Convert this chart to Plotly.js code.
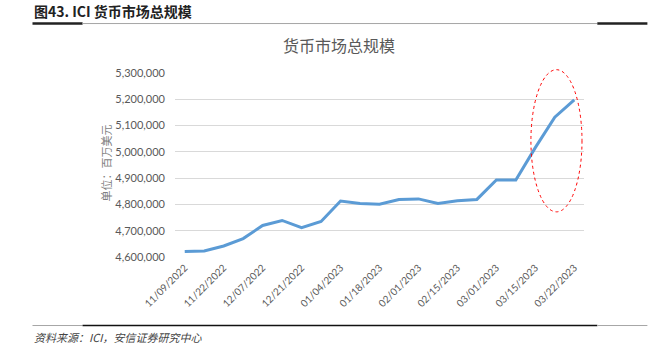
<!DOCTYPE html>
<html>
<head>
<meta charset="utf-8">
<script src="https://cdn.plot.ly/plotly-3.0.1.min.js"></script>
<style>
html,body{margin:0;padding:0;background:#fff;}
#chart{width:657px;height:347px;}
</style>
</head>
<body>
<div id="chart"></div>
<script>
// Categories (weekly report dates)
const dates = [
  "11/09/2022","11/16/2022","11/22/2022","11/30/2022","12/07/2022","12/14/2022",
  "12/21/2022","12/28/2022","01/04/2023","01/11/2023","01/18/2023","01/25/2023",
  "02/01/2023","02/08/2023","02/15/2023","02/22/2023","03/01/2023","03/08/2023",
  "03/15/2023","03/17/2023","03/22/2023"
];
// Total money market fund assets (USD millions)
const totalAssets = [
  4621000,4623000,4642000,4670000,4720000,4739000,
  4712000,4735000,4813000,4804000,4801000,4819000,
  4821000,4804000,4814000,4819000,4893000,4893000,
  5016000,5132000,5198000
];
// Tick labels shown on the x axis
const xTickLabels = [
  "11/09/2022","11/22/2022","12/07/2022","12/21/2022","01/04/2023","01/18/2023",
  "02/01/2023","02/15/2023","03/01/2023","03/15/2023","03/22/2023"
];
const yTickVals = [4600000,4700000,4800000,4900000,5000000,5100000,5200000,5300000];

// plot area in pixels
const L = 175.3, R = 583.7, T = 73.3, B = 256.7, Wd = 657, Ht = 347;
const px = x => (x - L) / (R - L);
const py = y => (B - y) / (B - T);

const cjk = '"Noto Sans CJK SC", "Noto Sans", sans-serif';
const latin = 'Lato, "Noto Sans", sans-serif';

const trace = {
  x: dates, y: totalAssets, type: 'scatter', mode: 'lines',
  line: {color: '#5B9BD5', width: 3},
  hoverinfo: 'none'
};

function hline(x0, x1, y, color, w) {
  return {type: 'line', xref: 'paper', yref: 'paper', x0: px(x0), x1: px(x1), y0: py(y), y1: py(y),
          line: {color: color, width: w}};
}

const layout = {
  width: Wd, height: Ht,
  margin: {l: L, r: Wd - R, t: T, b: Ht - B, pad: 0},
  paper_bgcolor: '#fff', plot_bgcolor: '#fff',
  showlegend: false,
  xaxis: {
    type: 'category', range: [-0.5, dates.length - 0.5],
    tickmode: 'array', tickvals: xTickLabels, ticktext: xTickLabels,
    tickangle: -45, showgrid: false, zeroline: false,
    showline: false, ticks: '', ticklen: 0, ticklabelstandoff: 2,
    tickfont: {family: latin, size: 10, color: '#595959'}
  },
  yaxis: {
    range: [4600000, 5300000], tickmode: 'array', tickvals: yTickVals,
    tickformat: ',d', showgrid: true, gridcolor: '#d9d9d9', gridwidth: 1,
    zeroline: false, showline: false, ticks: '', ticklen: 0, ticklabelstandoff: 9,
    tickfont: {family: latin, size: 11, color: '#595959'}
  },
  shapes: [
    hline(33, 83, 24, '#222', 2.5),
    hline(83, 597, 24, '#a6a6a6', 1),
    hline(597, 647, 24, '#222', 2.5),
    hline(33, 83, 325, '#a6a6a6', 1),
    hline(83, 597, 325, '#111', 1.5),
    hline(597, 647, 325, '#a6a6a6', 1),
    {type: 'circle', xref: 'paper', yref: 'paper',
     x0: px(530.7), x1: px(581.7), y0: py(211.7), y1: py(70),
     line: {color: '#ff0000', width: 1, dash: 'dot'}}
  ],
  annotations: [
    {xref: 'paper', yref: 'paper', x: px(33), y: py(12), xanchor: 'left', yanchor: 'middle',
     text: '<b>图43. ICI 货币市场总规模</b>', showarrow: false,
     font: {family: cjk, size: 14, color: '#222'}},
    {xref: 'paper', yref: 'paper', x: px(339), y: py(45), xanchor: 'center', yanchor: 'middle',
     text: '货币市场总规模', showarrow: false,
     font: {family: cjk, size: 16, color: '#595959'}},
    {xref: 'paper', yref: 'paper', x: px(106), y: py(163), xanchor: 'center', yanchor: 'middle',
     text: '单位：百万美元', textangle: -90, showarrow: false,
     font: {family: cjk, size: 11, color: '#7f7f7f'}},
    {xref: 'paper', yref: 'paper', x: px(33), y: py(336), xanchor: 'left', yanchor: 'middle',
     text: '<i>资料来源：ICI，安信证券研究中心</i>', showarrow: false,
     font: {family: cjk, size: 11, color: '#444'}}
  ]
};

Plotly.newPlot('chart', [trace], layout, {staticPlot: true, displayModeBar: false});
</script>
</body>
</html>
